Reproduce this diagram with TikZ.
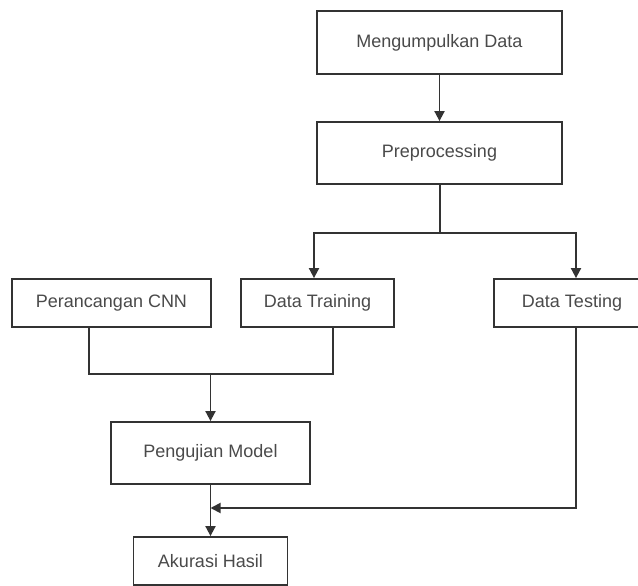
\documentclass[tikz,border=0pt]{standalone}
\usepackage{fontspec}
\setmainfont{Liberation Sans}
\usetikzlibrary{arrows.meta}
\definecolor{ln}{HTML}{333333}
\definecolor{tx}{HTML}{4A4A4A}
\begin{document}
\begin{tikzpicture}[x=1pt,y=-1pt,
  box/.style={draw=ln, line width=1.8pt, fill=white, inner sep=0pt,
    font=\fontsize{18}{20}\selectfont, text=tx},
  conn/.style={draw=ln, line width=1.8pt},
  arr/.style={conn, -{Triangle[length=10pt,width=10pt]}}]
\useasboundingbox (0,0) rectangle (638,586);
\node[box, minimum width=245pt, minimum height=63pt] (m) at (439.5,42.5) {Mengumpulkan Data};
\node[box, minimum width=245pt, minimum height=62pt] (p) at (439.5,153) {Preprocessing};
\node[box, minimum width=199pt, minimum height=48pt] (cnn) at (111.5,303) {Perancangan CNN};
\node[box, minimum width=153pt, minimum height=48pt] (dtr) at (317.5,303) {Data Training};
\node[box, minimum width=156pt, minimum height=48pt] (dte) at (572,303) {Data Testing};
\node[box, minimum width=199pt, minimum height=62pt] (pm) at (210.5,453) {Pengujian Model};
\node[box, minimum width=154pt, minimum height=48pt] (ak) at (210.5,561) {Akurasi Hasil};
% connectors
\draw[arr] (m.south) -- (p.north);
\coordinate (j1) at (440,233);
\coordinate (tl) at (314,233);
\coordinate (tr2) at (576,233);
\draw[conn] (p.south -| j1) -- (j1);
\draw[arr] (j1) -- (tl) -- (tl |- dtr.north);
\draw[arr] (j1) -- (tr2) -- (tr2 |- dte.north);
\coordinate (c1) at (89,374);
\coordinate (c2) at (333,374);
\draw[conn] (cnn.south -| c1) -- (c1) -- (c2) -- (dtr.south -| c2);
\coordinate (c3) at (pm.north |- c1);
\draw[arr] (c3) -- (pm.north);
\draw[arr] (pm.south) -- (ak.north);
\coordinate (t1) at (576,508);
\draw[arr] (dte.south -| t1) -- (t1) -- (pm.south |- t1);
\end{tikzpicture}
\end{document}
